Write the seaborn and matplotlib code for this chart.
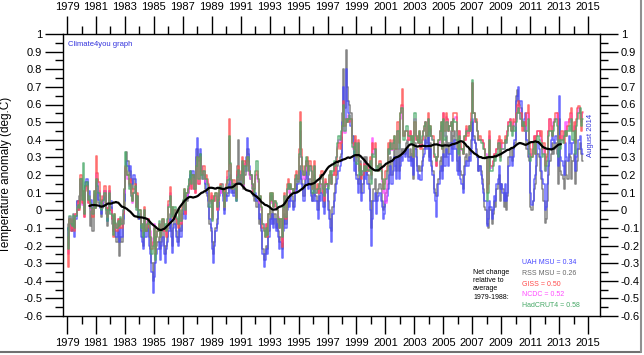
import numpy as np
import pandas as pd
import matplotlib
matplotlib.use("Agg")
import matplotlib.pyplot as plt
import seaborn as sns
from matplotlib.ticker import FixedLocator
from matplotlib.lines import Line2D

# ---------------- data (monthly anomalies, deg C, relative to 1979-1988) ----------------
start_year = 1979

uah = [
    -0.10, -0.20, -0.08, -0.12, -0.10, -0.05, -0.15, -0.05, 0.05, 0.00, 0.05, 0.15,
    0.08, 0.04, 0.01, 0.16, 0.18, 0.06, 0.11, 0.01, 0.06, 0.01, 0.08, 0.04,
    0.16, 0.14, 0.06, 0.01, -0.02, 0.02, 0.06, 0.11, 0.01, -0.06, 0.00, 0.11,
    0.05, -0.05, -0.10, -0.05, -0.12, -0.15, -0.08, -0.18, -0.10, -0.15, -0.05, 0.05,
    0.20, 0.28, 0.25, 0.22, 0.25, 0.18, 0.15, 0.20, 0.18, 0.05, 0.08, -0.02,
    -0.05, -0.15, -0.18, -0.22, -0.08, -0.15, -0.12, -0.10, -0.20, -0.25, -0.35, -0.47,
    -0.38, -0.30, -0.25, -0.22, -0.18, -0.28, -0.20, -0.15, -0.25, -0.30, -0.22, -0.18,
    -0.12, -0.05, -0.15, -0.24, -0.10, -0.08, -0.15, -0.18, -0.20, -0.10, -0.15, -0.05,
    -0.02, 0.05, -0.05, 0.08, 0.12, 0.15, 0.20, 0.18, 0.22, 0.15, 0.20, 0.35,
    0.41, 0.30, 0.35, 0.25, 0.22, 0.20, 0.15, 0.12, 0.10, 0.05, -0.05, -0.10,
    -0.22, -0.30, -0.20, -0.12, -0.08, 0.00, 0.08, 0.10, 0.12, 0.05, -0.02, 0.10,
    0.05, 0.08, 0.15, 0.18, 0.10, 0.12, 0.08, 0.12, 0.05, 0.20, 0.22, 0.15,
    0.20, 0.25, 0.15, 0.22, 0.30, 0.41, 0.35, 0.25, 0.20, 0.15, 0.10, 0.08,
    0.10, 0.05, 0.08, -0.05, -0.02, -0.10, -0.25, -0.32, -0.28, -0.22, -0.25, -0.15,
    -0.05, -0.08, -0.02, -0.10, -0.05, -0.12, -0.08, -0.15, -0.22, -0.18, -0.27, -0.12,
    -0.05, -0.10, 0.00, 0.05, 0.02, 0.08, 0.05, 0.00, 0.02, 0.12, 0.10, 0.15,
    0.18, 0.22, 0.15, 0.12, 0.05, 0.15, 0.22, 0.20, 0.12, 0.15, 0.08, 0.05,
    0.05, 0.15, 0.05, 0.00, -0.05, 0.08, 0.05, 0.10, 0.02, -0.02, 0.10, 0.12,
    0.00, -0.05, -0.10, -0.18, -0.02, 0.05, 0.10, 0.15, 0.18, 0.22, 0.25, 0.28,
    0.50, 0.70, 0.52, 0.80, 0.62, 0.55, 0.52, 0.48, 0.42, 0.38, 0.22, 0.30,
    0.18, 0.10, 0.15, 0.20, 0.05, 0.10, 0.22, 0.18, 0.25, 0.15, 0.12, 0.00,
    -0.20, -0.05, 0.05, 0.10, -0.02, 0.05, 0.08, 0.10, 0.05, 0.02, -0.05, -0.02,
    0.05, 0.08, 0.12, 0.20, 0.25, 0.15, 0.22, 0.30, 0.25, 0.18, 0.30, 0.18,
    0.25, 0.30, 0.28, 0.32, 0.30, 0.35, 0.35, 0.28, 0.30, 0.25, 0.30, 0.20,
    0.35, 0.30, 0.22, 0.18, 0.20, 0.17, 0.25, 0.30, 0.32, 0.40, 0.35, 0.45,
    0.28, 0.35, 0.25, 0.20, 0.10, 0.05, -0.04, 0.08, 0.15, 0.22, 0.25, 0.18,
    0.32, 0.25, 0.35, 0.30, 0.25, 0.32, 0.38, 0.28, 0.35, 0.40, 0.35, 0.22,
    0.20, 0.30, 0.18, 0.15, 0.10, 0.20, 0.25, 0.28, 0.25, 0.30, 0.28, 0.35,
    0.52, 0.40, 0.38, 0.32, 0.30, 0.22, 0.25, 0.20, 0.15, 0.10, 0.05, 0.05,
    -0.09, -0.05, 0.05, 0.02, -0.05, 0.00, 0.08, 0.05, 0.15, 0.18, 0.25, 0.12,
    0.15, 0.10, 0.05, 0.15, 0.05, 0.10, 0.25, 0.30, 0.30, 0.25, 0.30, 0.40,
    0.62, 0.65, 0.70, 0.60, 0.62, 0.48, 0.50, 0.52, 0.55, 0.40, 0.35, 0.30,
    0.10, 0.03, 0.05, 0.18, 0.20, 0.32, 0.38, 0.35, 0.30, 0.22, 0.18, 0.15,
    0.00, 0.02, 0.15, 0.25, 0.35, 0.40, 0.45, 0.40, 0.38, 0.42, 0.40, 0.25,
    0.65, 0.30, 0.28, 0.25, 0.20, 0.38, 0.30, 0.28, 0.42, 0.38, 0.32, 0.38,
    0.40, 0.22, 0.30, 0.35, 0.40, 0.42, 0.35, 0.32,
]

rss = [
    -0.08, -0.15, -0.05, -0.10, -0.12, -0.02, -0.10, -0.03, 0.05, 0.02, 0.08, 0.18,
    0.11, 0.06, -0.02, 0.14, 0.16, 0.08, 0.06, -0.09, 0.01, -0.12, 0.04, 0.01,
    0.14, 0.18, 0.04, 0.02, -0.04, 0.01, 0.04, 0.08, -0.02, -0.09, -0.02, 0.08,
    0.02, -0.08, -0.12, -0.08, -0.15, -0.18, -0.12, -0.26, -0.15, -0.18, -0.08, 0.02,
    0.22, 0.33, 0.28, 0.20, 0.22, 0.15, 0.12, 0.18, 0.15, 0.02, 0.05, -0.05,
    -0.03, -0.12, -0.15, -0.20, -0.05, -0.12, -0.10, -0.08, -0.15, -0.22, -0.30, -0.40,
    -0.30, -0.25, -0.20, -0.18, -0.15, -0.22, -0.18, -0.12, -0.20, -0.25, -0.20, -0.15,
    -0.10, -0.02, -0.12, -0.20, -0.08, -0.05, -0.12, -0.15, -0.18, -0.08, -0.12, -0.02,
    0.00, 0.08, -0.02, 0.05, 0.10, 0.18, 0.22, 0.20, 0.20, 0.12, 0.18, 0.30,
    0.35, 0.28, 0.32, 0.22, 0.20, 0.18, 0.12, 0.10, 0.08, 0.02, -0.08, -0.12,
    -0.18, -0.25, -0.18, -0.10, -0.05, 0.02, 0.10, 0.12, 0.15, 0.08, 0.00, 0.12,
    0.08, 0.10, 0.18, 0.20, 0.12, 0.15, 0.10, 0.15, 0.08, 0.25, 0.40, 0.20,
    0.18, 0.22, 0.12, 0.20, 0.28, 0.35, 0.32, 0.22, 0.18, 0.12, 0.08, 0.05,
    0.08, 0.02, 0.05, -0.08, -0.05, -0.12, -0.22, -0.28, -0.25, -0.20, -0.22, -0.12,
    -0.02, -0.05, 0.00, -0.08, -0.02, -0.10, -0.05, -0.12, -0.18, -0.15, -0.22, -0.08,
    -0.02, -0.08, 0.02, 0.05, 0.05, 0.10, 0.08, 0.02, 0.05, 0.15, 0.12, 0.18,
    0.22, 0.25, 0.18, 0.15, 0.08, 0.18, 0.28, 0.25, 0.15, 0.18, 0.10, 0.05,
    0.10, 0.20, 0.08, 0.05, 0.00, 0.12, 0.10, 0.15, 0.05, 0.02, 0.15, 0.15,
    0.05, 0.00, -0.05, -0.12, 0.02, 0.10, 0.15, 0.20, 0.25, 0.28, 0.30, 0.32,
    0.55, 0.80, 0.58, 0.91, 0.70, 0.62, 0.60, 0.55, 0.42, 0.42, 0.28, 0.34,
    0.20, 0.15, 0.18, 0.28, 0.10, 0.15, 0.30, 0.22, 0.30, 0.20, 0.15, 0.05,
    -0.10, 0.05, 0.12, 0.18, 0.05, 0.10, 0.12, 0.15, 0.12, 0.05, 0.00, 0.02,
    0.10, 0.12, 0.15, 0.25, 0.30, 0.20, 0.28, 0.35, 0.30, 0.22, 0.35, 0.22,
    0.30, 0.35, 0.32, 0.35, 0.32, 0.38, 0.40, 0.30, 0.35, 0.28, 0.32, 0.18,
    0.38, 0.35, 0.25, 0.22, 0.25, 0.22, 0.28, 0.35, 0.35, 0.42, 0.38, 0.48,
    0.30, 0.38, 0.28, 0.22, 0.12, 0.10, 0.08, 0.15, 0.18, 0.28, 0.30, 0.22,
    0.38, 0.30, 0.42, 0.38, 0.32, 0.38, 0.45, 0.35, 0.42, 0.45, 0.40, 0.28,
    0.22, 0.35, 0.22, 0.20, 0.12, 0.25, 0.30, 0.32, 0.28, 0.35, 0.32, 0.40,
    0.50, 0.42, 0.38, 0.35, 0.30, 0.22, 0.25, 0.22, 0.18, 0.12, 0.02, 0.00,
    -0.08, -0.10, 0.02, 0.00, -0.08, -0.02, 0.05, 0.02, 0.12, 0.15, 0.20, 0.05,
    0.15, 0.12, 0.02, 0.10, 0.00, 0.08, 0.30, 0.35, 0.35, 0.28, 0.35, 0.38,
    0.65, 0.68, 0.62, 0.60, 0.58, 0.48, 0.50, 0.45, 0.50, 0.35, 0.30, 0.28,
    0.02, 0.00, 0.05, 0.12, 0.15, 0.25, 0.32, 0.30, 0.22, 0.18, 0.12, 0.05,
    -0.07, -0.05, 0.05, 0.20, 0.28, 0.32, 0.38, 0.32, 0.35, 0.38, 0.32, 0.15,
    0.52, 0.22, 0.20, 0.18, 0.12, 0.28, 0.20, 0.18, 0.32, 0.30, 0.18, 0.28,
    0.32, 0.15, 0.22, 0.28, 0.35, 0.38, 0.32, 0.28,
]

giss = [
    -0.15, -0.32, -0.05, -0.12, -0.10, -0.05, -0.12, -0.02, 0.00, 0.05, 0.00, 0.20,
    0.04, 0.11, -0.04, 0.11, 0.14, 0.04, 0.06, 0.02, 0.01, -0.04, 0.11, 0.01,
    0.31, 0.21, 0.16, 0.08, 0.01, 0.06, 0.08, 0.14, 0.01, -0.04, 0.01, 0.14,
    0.00, -0.05, -0.15, -0.02, -0.08, -0.12, -0.05, -0.10, -0.05, -0.10, -0.02, 0.12,
    0.25, 0.22, 0.20, 0.15, 0.18, 0.10, 0.05, 0.12, 0.15, 0.02, 0.10, 0.00,
    0.00, -0.08, -0.10, -0.12, 0.02, -0.12, -0.08, -0.05, -0.10, -0.15, -0.22, -0.18,
    -0.10, -0.25, -0.15, -0.12, -0.08, -0.15, -0.12, -0.05, -0.12, -0.10, -0.15, -0.08,
    0.05, 0.13, -0.02, 0.02, -0.05, 0.00, -0.05, -0.08, -0.10, 0.00, -0.08, 0.02,
    0.05, 0.12, -0.02, 0.10, 0.12, 0.15, 0.18, 0.12, 0.20, 0.12, 0.10, 0.25,
    0.30, 0.15, 0.30, 0.22, 0.20, 0.25, 0.18, 0.20, 0.18, 0.15, 0.05, 0.10,
    -0.05, 0.08, 0.05, 0.10, 0.00, 0.05, 0.12, 0.15, 0.12, 0.10, 0.02, 0.12,
    0.15, 0.22, 0.52, 0.26, 0.17, 0.12, 0.17, 0.15, 0.07, 0.22, 0.25, 0.17,
    0.22, 0.30, 0.15, 0.28, 0.25, 0.30, 0.28, 0.22, 0.20, 0.15, 0.10, 0.12,
    0.20, 0.22, 0.18, 0.05, 0.08, 0.02, -0.10, -0.12, -0.15, -0.08, -0.15, -0.02,
    0.10, 0.05, 0.10, 0.02, 0.05, 0.02, 0.00, -0.05, -0.10, -0.05, -0.21, 0.02,
    0.10, -0.05, 0.15, 0.18, 0.12, 0.15, 0.12, 0.10, 0.12, 0.20, 0.22, 0.18,
    0.35, 0.56, 0.35, 0.25, 0.20, 0.25, 0.28, 0.30, 0.22, 0.28, 0.25, 0.12,
    0.15, 0.28, 0.12, 0.15, 0.10, 0.15, 0.20, 0.22, 0.10, 0.05, 0.18, 0.15,
    0.15, 0.20, 0.22, 0.15, 0.20, 0.25, 0.20, 0.28, 0.35, 0.38, 0.35, 0.38,
    0.48, 0.62, 0.48, 0.52, 0.50, 0.52, 0.50, 0.52, 0.38, 0.38, 0.35, 0.42,
    0.30, 0.40, 0.22, 0.26, 0.18, 0.20, 0.26, 0.22, 0.25, 0.22, 0.26, 0.30,
    0.20, 0.38, 0.35, 0.38, 0.25, 0.25, 0.22, 0.28, 0.25, 0.18, 0.12, 0.15,
    0.22, 0.25, 0.38, 0.35, 0.40, 0.35, 0.40, 0.42, 0.35, 0.35, 0.50, 0.38,
    0.55, 0.60, 0.69, 0.42, 0.45, 0.45, 0.45, 0.40, 0.45, 0.40, 0.42, 0.30,
    0.50, 0.40, 0.42, 0.38, 0.45, 0.35, 0.40, 0.45, 0.48, 0.50, 0.42, 0.55,
    0.45, 0.48, 0.42, 0.42, 0.30, 0.30, 0.25, 0.30, 0.40, 0.45, 0.50, 0.35,
    0.55, 0.45, 0.55, 0.52, 0.45, 0.48, 0.50, 0.45, 0.55, 0.55, 0.55, 0.45,
    0.35, 0.45, 0.38, 0.35, 0.32, 0.42, 0.40, 0.48, 0.42, 0.48, 0.45, 0.55,
    0.72, 0.55, 0.50, 0.52, 0.45, 0.40, 0.42, 0.40, 0.40, 0.38, 0.35, 0.30,
    0.10, 0.15, 0.45, 0.25, 0.25, 0.28, 0.32, 0.30, 0.35, 0.40, 0.42, 0.30,
    0.40, 0.38, 0.38, 0.42, 0.40, 0.45, 0.50, 0.52, 0.45, 0.45, 0.52, 0.50,
    0.55, 0.60, 0.62, 0.55, 0.55, 0.45, 0.48, 0.50, 0.48, 0.55, 0.60, 0.38,
    0.35, 0.30, 0.38, 0.42, 0.32, 0.42, 0.45, 0.45, 0.42, 0.45, 0.35, 0.38,
    0.25, 0.30, 0.32, 0.45, 0.52, 0.45, 0.42, 0.48, 0.50, 0.55, 0.55, 0.38,
    0.42, 0.40, 0.45, 0.40, 0.38, 0.45, 0.42, 0.48, 0.52, 0.55, 0.58, 0.45,
    0.50, 0.38, 0.52, 0.58, 0.59, 0.52, 0.45, 0.56,
]

ncdc = [
    -0.12, -0.25, -0.04, -0.10, -0.10, -0.04, -0.10, -0.02, 0.02, 0.04, 0.02, 0.17,
    0.03, 0.10, -0.04, 0.12, 0.13, 0.04, 0.08, 0.02, 0.00, -0.02, 0.09, 0.02,
    0.21, 0.16, 0.11, 0.06, 0.01, 0.04, 0.08, 0.11, 0.02, -0.04, 0.01, 0.11,
    0.00, -0.04, -0.12, -0.03, -0.08, -0.10, -0.05, -0.08, -0.05, -0.08, 0.00, 0.10,
    0.24, 0.20, 0.18, 0.14, 0.16, 0.08, 0.04, 0.10, 0.12, 0.02, 0.08, -0.02,
    -0.02, -0.08, -0.08, -0.12, 0.00, -0.10, -0.06, -0.05, -0.08, -0.12, -0.20, -0.16,
    -0.08, -0.22, -0.14, -0.12, -0.08, -0.14, -0.12, -0.06, -0.12, -0.10, -0.14, -0.08,
    0.03, 0.10, -0.03, 0.00, -0.04, 0.00, -0.05, -0.06, -0.08, -0.02, -0.07, 0.00,
    0.04, 0.10, -0.02, 0.08, 0.10, 0.14, 0.16, 0.12, 0.18, 0.12, 0.10, 0.22,
    0.28, 0.15, 0.28, 0.20, 0.18, 0.22, 0.16, 0.18, 0.16, 0.14, 0.04, 0.08,
    -0.04, 0.06, 0.05, 0.08, 0.00, 0.05, 0.10, 0.12, 0.10, 0.10, 0.02, 0.10,
    0.12, 0.19, 0.40, 0.25, 0.15, 0.12, 0.15, 0.13, 0.07, 0.19, 0.22, 0.15,
    0.20, 0.28, 0.14, 0.26, 0.22, 0.28, 0.26, 0.20, 0.18, 0.14, 0.10, 0.12,
    0.18, 0.20, 0.16, 0.04, 0.06, 0.00, -0.08, -0.10, -0.12, -0.08, -0.12, -0.02,
    0.08, 0.04, 0.08, 0.02, 0.04, 0.02, 0.00, -0.04, -0.10, -0.06, -0.18, 0.00,
    0.08, -0.03, 0.12, 0.15, 0.10, 0.14, 0.12, 0.10, 0.10, 0.18, 0.20, 0.16,
    0.30, 0.45, 0.30, 0.22, 0.18, 0.22, 0.26, 0.28, 0.20, 0.25, 0.22, 0.12,
    0.12, 0.25, 0.10, 0.12, 0.10, 0.14, 0.18, 0.20, 0.10, 0.06, 0.16, 0.14,
    0.14, 0.18, 0.20, 0.15, 0.20, 0.25, 0.22, 0.30, 0.36, 0.40, 0.38, 0.42,
    0.45, 0.58, 0.44, 0.52, 0.50, 0.54, 0.54, 0.52, 0.38, 0.35, 0.34, 0.40,
    0.28, 0.38, 0.22, 0.25, 0.20, 0.22, 0.26, 0.23, 0.25, 0.22, 0.25, 0.28,
    0.18, 0.41, 0.32, 0.35, 0.24, 0.24, 0.22, 0.26, 0.24, 0.16, 0.10, 0.12,
    0.04, 0.22, 0.35, 0.32, 0.38, 0.34, 0.38, 0.40, 0.35, 0.35, 0.45, 0.35,
    0.52, 0.58, 0.60, 0.42, 0.45, 0.45, 0.45, 0.40, 0.45, 0.40, 0.40, 0.30,
    0.52, 0.40, 0.40, 0.38, 0.44, 0.36, 0.40, 0.45, 0.46, 0.50, 0.42, 0.52,
    0.42, 0.46, 0.42, 0.40, 0.30, 0.30, 0.25, 0.30, 0.38, 0.45, 0.48, 0.35,
    0.55, 0.42, 0.53, 0.52, 0.45, 0.48, 0.50, 0.45, 0.52, 0.52, 0.53, 0.42,
    0.35, 0.45, 0.36, 0.34, 0.32, 0.40, 0.40, 0.46, 0.44, 0.48, 0.45, 0.52,
    0.72, 0.55, 0.50, 0.50, 0.45, 0.40, 0.40, 0.40, 0.40, 0.38, 0.35, 0.32,
    0.12, 0.15, 0.42, 0.24, 0.25, 0.28, 0.32, 0.30, 0.35, 0.38, 0.40, 0.30,
    0.38, 0.35, 0.35, 0.40, 0.38, 0.45, 0.50, 0.52, 0.48, 0.45, 0.50, 0.48,
    0.52, 0.58, 0.60, 0.58, 0.52, 0.48, 0.50, 0.50, 0.45, 0.52, 0.55, 0.35,
    0.30, 0.32, 0.38, 0.42, 0.32, 0.42, 0.45, 0.45, 0.42, 0.40, 0.32, 0.35,
    0.22, 0.28, 0.30, 0.45, 0.52, 0.48, 0.45, 0.50, 0.52, 0.52, 0.55, 0.35,
    0.40, 0.38, 0.42, 0.40, 0.45, 0.50, 0.45, 0.50, 0.52, 0.50, 0.55, 0.45,
    0.48, 0.35, 0.50, 0.55, 0.58, 0.55, 0.50, 0.55,
]

hadcrut = [
    -0.10, -0.22, -0.03, -0.08, -0.09, -0.03, -0.10, -0.03, 0.02, 0.03, 0.01, 0.18,
    0.06, 0.27, -0.02, 0.14, 0.16, 0.06, 0.08, 0.04, 0.01, -0.02, 0.11, 0.01,
    0.18, 0.14, 0.10, 0.04, 0.00, 0.05, 0.06, 0.10, 0.00, -0.06, 0.00, 0.10,
    -0.02, -0.03, -0.14, -0.02, -0.07, -0.10, -0.06, -0.09, -0.04, -0.08, 0.00, 0.12,
    0.33, 0.25, 0.20, 0.12, 0.15, 0.08, 0.05, 0.10, 0.14, 0.00, 0.08, -0.03,
    0.00, -0.10, -0.08, -0.15, 0.00, -0.12, -0.08, -0.06, -0.08, -0.15, -0.25, -0.20,
    -0.10, -0.28, -0.15, -0.12, -0.06, -0.15, -0.12, -0.05, -0.10, -0.08, -0.12, -0.05,
    0.02, 0.08, -0.04, 0.02, -0.03, 0.02, -0.04, -0.05, -0.08, 0.00, -0.06, 0.00,
    0.06, 0.12, 0.00, 0.10, 0.14, 0.18, 0.22, 0.15, 0.20, 0.12, 0.12, 0.25,
    0.30, 0.18, 0.32, 0.20, 0.18, 0.22, 0.18, 0.18, 0.15, 0.12, 0.02, 0.06,
    -0.06, 0.05, 0.08, 0.10, 0.02, 0.06, 0.12, 0.14, 0.12, 0.10, 0.02, 0.10,
    0.13, 0.17, 0.42, 0.27, 0.17, 0.12, 0.15, 0.12, 0.05, 0.19, 0.23, 0.15,
    0.20, 0.28, 0.15, 0.25, 0.22, 0.30, 0.30, 0.22, 0.20, 0.15, 0.12, 0.10,
    0.22, 0.28, 0.18, 0.06, 0.08, 0.02, -0.08, -0.12, -0.15, -0.10, -0.14, -0.02,
    0.10, 0.06, 0.10, 0.02, 0.05, 0.04, 0.00, -0.05, -0.10, -0.05, -0.15, 0.02,
    0.08, -0.04, 0.12, 0.15, 0.12, 0.15, 0.12, 0.10, 0.12, 0.18, 0.20, 0.16,
    0.32, 0.50, 0.30, 0.22, 0.20, 0.25, 0.30, 0.28, 0.20, 0.25, 0.22, 0.10,
    0.10, 0.25, 0.10, 0.12, 0.12, 0.15, 0.18, 0.20, 0.12, 0.08, 0.15, 0.15,
    0.12, 0.20, 0.22, 0.15, 0.22, 0.28, 0.25, 0.30, 0.38, 0.42, 0.40, 0.45,
    0.48, 0.60, 0.45, 0.52, 0.50, 0.52, 0.54, 0.52, 0.36, 0.36, 0.32, 0.38,
    0.26, 0.38, 0.20, 0.25, 0.20, 0.22, 0.25, 0.22, 0.25, 0.23, 0.22, 0.28,
    0.15, 0.32, 0.30, 0.35, 0.22, 0.25, 0.22, 0.26, 0.22, 0.18, 0.12, 0.12,
    0.18, 0.22, 0.35, 0.32, 0.38, 0.35, 0.38, 0.42, 0.35, 0.35, 0.45, 0.35,
    0.55, 0.58, 0.58, 0.40, 0.45, 0.48, 0.48, 0.42, 0.42, 0.38, 0.42, 0.30,
    0.55, 0.42, 0.40, 0.38, 0.45, 0.38, 0.42, 0.45, 0.48, 0.50, 0.42, 0.52,
    0.42, 0.48, 0.42, 0.40, 0.32, 0.30, 0.28, 0.30, 0.40, 0.45, 0.50, 0.35,
    0.52, 0.40, 0.50, 0.50, 0.45, 0.48, 0.50, 0.45, 0.52, 0.50, 0.50, 0.40,
    0.32, 0.42, 0.35, 0.35, 0.32, 0.42, 0.42, 0.45, 0.45, 0.48, 0.45, 0.50,
    0.74, 0.55, 0.52, 0.50, 0.45, 0.40, 0.40, 0.38, 0.38, 0.35, 0.35, 0.30,
    0.05, 0.10, 0.40, 0.22, 0.22, 0.25, 0.30, 0.28, 0.32, 0.38, 0.38, 0.28,
    0.35, 0.35, 0.35, 0.40, 0.38, 0.42, 0.48, 0.50, 0.45, 0.42, 0.48, 0.45,
    0.50, 0.55, 0.58, 0.55, 0.52, 0.48, 0.50, 0.48, 0.45, 0.45, 0.52, 0.32,
    0.28, 0.30, 0.35, 0.38, 0.32, 0.40, 0.42, 0.40, 0.38, 0.38, 0.30, 0.32,
    0.22, 0.25, 0.28, 0.42, 0.45, 0.45, 0.42, 0.45, 0.50, 0.52, 0.48, 0.30,
    0.40, 0.35, 0.40, 0.38, 0.42, 0.45, 0.42, 0.45, 0.48, 0.45, 0.52, 0.40,
    0.45, 0.32, 0.48, 0.52, 0.55, 0.58, 0.48, 0.52,
]

series_names = ["UAH MSU", "RSS MSU", "GISS", "NCDC", "HadCRUT4"]
series_colors = ["#4646ff", "#666666", "#ff4a4a", "#ff4aff", "#46a866"]
net_change = ["0.34", "0.26", "0.50", "0.52", "0.58"]
draw_order = ["RSS MSU", "UAH MSU", "NCDC", "GISS", "HadCRUT4"]

x_major_years = list(range(1979, 2017, 2))
x_minor_years = list(range(1980, 2016, 2))
y_major = [round(-0.6 + 0.1 * i, 1) for i in range(17)]
y_labels = ["-0.6", "-0.5", "-0.4", "-0.3", "-0.2", "-0.1", "0", "0.1", "0.2",
            "0.3", "0.4", "0.5", "0.6", "0.7", "0.8", "0.9", "1"]
y_minor = [round(-0.55 + 0.1 * i, 2) for i in range(16)]

# ---------------- build frame ----------------
all_series = [uah, rss, giss, ncdc, hadcrut]
n = len(uah)
t = start_year + (np.arange(n) + 0.5) / 12.0
df = pd.DataFrame({
    "time": np.tile(t, len(all_series)),
    "anomaly": np.concatenate([np.asarray(s, float) for s in all_series]),
    "series": np.repeat(series_names, n),
})
wide = pd.DataFrame({nm: s for nm, s in zip(series_names, all_series)})
runmean = pd.DataFrame({"time": t,
                        "mean": wide.mean(axis=1).rolling(37, center=True).mean()})
color_of = dict(zip(series_names, series_colors))

# ---------------- plot ----------------
sns.set_theme(style="white")
plt.rcParams['font.family'] = ['Liberation Sans', 'DejaVu Sans']

fig = plt.figure(figsize=(6.44, 3.55), dpi=100)
fig.patch.set_facecolor("white")
ax = fig.add_axes([63 / 644, 1 - 316 / 355, (600 - 63) / 644, (316 - 34) / 355])

for nm in draw_order:
    sns.lineplot(data=df[df["series"] == nm], x="time", y="anomaly",
                 color=color_of[nm], estimator=None, sort=False,
                 drawstyle="steps-mid", linewidth=1.1, alpha=0.8, ax=ax)
sns.lineplot(data=runmean.dropna(), x="time", y="mean", color="black",
             linewidth=1.6, estimator=None, sort=False, ax=ax)

ax.set_xlim(1978.72, 2015.83)
ax.set_ylim(-0.6, 1.0)
ax.xaxis.set_major_locator(FixedLocator(x_major_years))
ax.xaxis.set_minor_locator(FixedLocator(x_minor_years))
ax.set_xticklabels([str(y) for y in x_major_years])
ax.yaxis.set_major_locator(FixedLocator(y_major))
ax.yaxis.set_minor_locator(FixedLocator(y_minor))
ax.set_yticklabels(y_labels)

ax.tick_params(axis="both", which="major", direction="out", length=13, width=1,
               color="black", labelsize=8, labelcolor="black",
               top=True, right=True, bottom=True, left=True,
               labeltop=True, labelright=True)
ax.tick_params(axis="x", which="major", pad=3)
ax.tick_params(axis="y", which="major", pad=2)
ax.tick_params(axis="both", which="minor", direction="out", length=6, width=1,
               color="black", top=True, right=True, bottom=True, left=True)
for sp in ax.spines.values():
    sp.set_color("black")
    sp.set_linewidth(1.0)
    sp.set_visible(True)

ax.set_xlabel("")
ax.set_ylabel("Temperature anomaly (deg.C)", fontsize=8.5, color="black")
ax.yaxis.set_label_coords((12 - 63) / 537, 0.5)

# annotations
fig.text(68 / 644, 1 - 44 / 355, "Climate4you graph", fontsize=5.5, color="#3333dd",
         va="center", ha="left")
fig.text(591 / 644, 1 - 135 / 355, "August 2014", rotation=90, fontsize=5.5,
         color="#3333dd", ha="center", va="center")

leg_y = [263, 273.5, 284, 295, 305.5]
for nm, col, val, yy in zip(series_names, series_colors, net_change, leg_y):
    fig.text(522 / 644, 1 - yy / 355, f"{nm} = {val}", fontsize=5, color=col,
             ha="left", va="center")
fig.text(473 / 644, 1 - 269 / 355, "Net change\nrelative to\naverage\n1979-1988:",
         fontsize=5, color="black", ha="left", va="top", linespacing=1.25)

# drop shadow of the original screenshot frame
fig.add_artist(Line2D([0.0, 641 / 644], [1 - 352 / 355] * 2, color="#707070",
                      lw=1.5, transform=fig.transFigure))
fig.add_artist(Line2D([641 / 644] * 2, [1 - 352 / 355, 1.0], color="#909090",
                      lw=1.5, transform=fig.transFigure))

fig.savefig("out.png", dpi=100)
